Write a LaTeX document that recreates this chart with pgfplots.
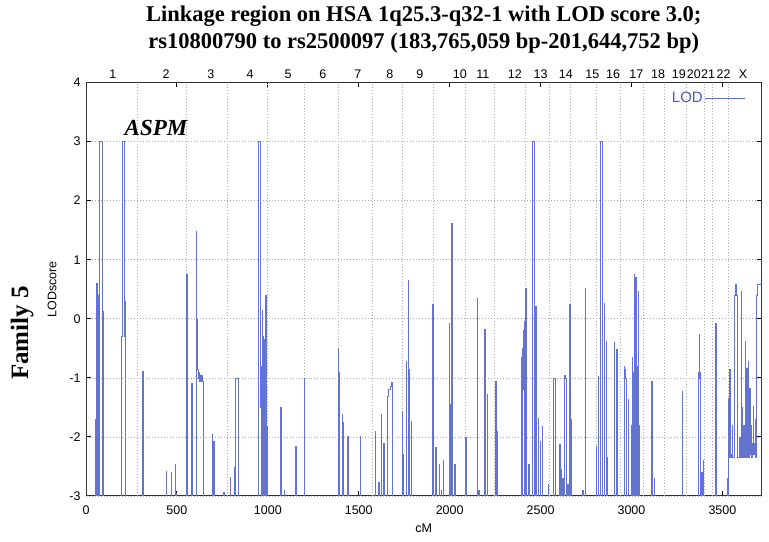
\documentclass[border=0pt]{standalone}
\usepackage{pgfplots}
\pgfplotsset{compat=1.18}
\usepackage{fontspec}
\setmainfont{Liberation Serif}
\setsansfont{Liberation Sans}
\definecolor{lodc}{RGB}{98,116,208}
\definecolor{lodtxt}{RGB}{70,90,185}
\definecolor{gridc}{RGB}{170,170,170}
\newcommand{\tfont}{\sffamily\fontsize{12.5}{14}\selectfont}

\begin{document}
\begin{tikzpicture}
\begin{axis}[
  name=main,
  scale only axis,
  width=675.5pt, height=413.5pt,
  xmin=0, xmax=3715, ymin=-3, ymax=4,
  clip mode=individual,
  xtick={0,500,...,3500},
  ytick={-3,-2,...,4},
  tick label style={font=\tfont},
  xticklabel style={yshift=-6pt},
  yticklabel style={xshift=-2pt},
  /pgf/number format/assume math mode=true,
  /pgf/number format/1000 sep={},
  xlabel={cM}, ylabel={LODscore},
  label style={font=\tfont},
  xlabel style={at={(axis description cs:0.5,-0.0774)}, anchor=center},
  ylabel style={at={(axis description cs:-0.0503,0.5)}, anchor=center},
  ymajorgrids,
  extra x ticks={284,551,777,995,1198,1387,1574,1741,1908,2087,2247,2417,2547,2662,2804,2937,3066,3183,3302,3403,3445,3531},
  extra x tick labels={},
  extra x tick style={grid=major, major tick length=0pt},
  grid style={gridc, line width=0.6pt, dash pattern=on 1pt off 2pt},
  axis line style={black!80, line width=1pt},
  major tick length=5pt,
  tick style={black, line width=1pt},
  legend plot pos=right,
  legend style={draw=none, fill=none, at={(axis description cs:0.9815,0.987)}, anchor=north east,
    font=\sffamily\fontsize{15}{17}\selectfont, text=lodtxt},
  legend image code/.code={\draw[lodc, line width=1pt] (12pt,0pt) -- (52pt,0pt);},
]
\addplot[lodc, line width=0.55pt, const plot] coordinates {
(0,-3.6)
(50,-3.6)(52,-1.7)(53,-3.6)(55,-1.5)(56,-3.6)(57,-0.8)(58,-3.6)(59,0.6)(60,0.0)(61,0.46)(62,-3.6)(63,0.3)(64,-0.5)(65,-3.6)(66,0.4)(67,-3.6)
(72,-3.6)(73,3)(90,-3.6)(94,-3.6)(95,0.13)(96,-3.6)
(194,-3.6)(196,-0.3)(197,3)(212,-0.3)(213,0.3)(215,-3.6)
(310,-3.6)(312,-0.89)(314,-3.6)
(438,-3.6)(440,-2.58)(442,-3.6)(465,-3.6)(467,-2.6)(469,-3.6)(487,-3.6)(489,-2.46)(491,-3.6)
(495,-3.6)(497,-2.95)(499,-3.6)
(552,-3.6)(554,0.75)(555,-0.3)(556,-0.89)(558,-3.6)
(579,-3.6)(581,-1.1)(583,-3.6)
(606,-3.6)(608,1.48)(609,0.0)(610,-0.5)(612,-0.85)(615,-1.0)(618,-0.9)(621,-1.05)(624,-0.95)(627,-1.05)(630,-1.0)(633,-1.05)(636,-0.95)(640,-1.05)(644,-1.05)(645,-3.6)
(691,-3.6)(693,-1.96)(695,-3.6)(700,-3.6)(702,-2.07)(704,-3.6)
(755,-3.6)(757,-2.94)(759,-3.6)
(789,-3.6)(791,-2.69)(793,-3.6)
(815,-3.6)(817,-2.52)(819,-3.6)
(821,-3.6)(823,-1.0)(836,-3.6)
(943,-3.6)(945,3)(960,-0.44)(961,-1.5)(962,-0.8)(963,-3.6)(966,-0.9)(968,0.15)(969,-1.2)(970,-3.6)(972,-0.8)(973,-0.3)(974,-3.6)(976,-1.2)(978,-0.7)(979,-3.6)(981,-1.0)(983,-0.35)(984,-3.6)(986,-0.8)(988,0.4)(989,-1.0)(990,-3.6)(992,-0.9)(993,-3.6)(995,-1.82)(997,-3.6)
(1068,-3.6)(1070,-1.5)(1072,-3.6)
(1086,-3.6)(1088,-2.9)(1090,-3.6)
(1150,-3.6)(1152,-2.15)(1154,-3.6)
(1196,-3.6)(1198,-1.0)(1200,-3.6)
(1384,-3.6)(1386,-0.52)(1387,-0.6)(1388,-1.0)(1389,-3.6)(1391,-0.9)(1392,-1.5)(1393,-3.6)
(1409,-3.6)(1411,-1.62)(1412,-1.76)(1413,-3.6)
(1437,-3.6)(1439,-1.99)(1441,-3.6)
(1504,-3.6)(1506,-1.99)(1507,-2.5)(1508,-3.6)
(1589,-3.6)(1591,-1.9)(1593,-3.6)
(1607,-3.6)(1609,-2.77)(1611,-3.6)
(1620,-3.6)(1622,-1.62)(1624,-3.6)
(1634,-3.6)(1636,-2.1)(1638,-3.6)
(1656,-3.6)(1658,-1.31)(1665,-1.2)(1671,-1.14)(1680,-1.08)(1682,-3.6)
(1739,-3.6)(1741,-1.56)(1742,-2.3)(1743,-3.6)
(1760,-3.6)(1762,-0.72)(1763,-1.2)(1764,-3.6)
(1772,-3.6)(1774,0.66)(1775,-0.86)(1776,-3.6)
(1785,-3.6)(1787,-1.73)(1789,-3.6)
(1905,-3.6)(1907,0.24)(1908,-0.83)(1909,-1.3)(1910,-3.6)
(1920,-3.6)(1922,-2.18)(1924,-3.6)
(1940,-3.6)(1942,-2.46)(1944,-3.6)
(1951,-3.6)(1953,-2.9)(1955,-3.6)
(1962,-3.6)(1964,-2.4)(1966,-3.6)
(1997,-3.6)(1999,-0.07)(2000,-1.45)(2001,-3.6)
(2008,-3.6)(2010,1.61)(2012,-3.6)
(2026,-3.6)(2028,-2.46)(2030,-3.6)
(2085,-3.6)(2087,-2.0)(2089,-3.6)
(2149,-3.6)(2151,0.35)(2152,-0.1)(2153,-3.6)
(2158,-3.6)(2160,-2.9)(2162,-3.6)
(2191,-3.6)(2193,-0.18)(2194,-1.23)(2195,-3.6)
(2204,-3.6)(2206,-1.28)(2208,-3.6)
(2250,-3.6)(2252,-1.06)(2254,-3.6)(2259,-3.6)(2261,-1.9)(2263,-3.6)
(2393,-3.6)(2395,-0.66)(2397,-3.6)
(2400,-3.6)(2402,-0.5)(2404,-1.2)(2406,-0.2)(2407,-1.0)(2408,-0.04)(2409,-1.3)(2410,-3.6)
(2415,-3.6)(2417,0.51)(2419,-3.6)
(2433,-3.6)(2435,-2.46)(2437,-3.6)
(2452,-3.6)(2454,3)(2467,-3.6)
(2470,-3.6)(2472,0.21)(2474,-3.6)
(2484,-3.6)(2486,-1.68)(2488,-3.6)
(2495,-3.6)(2497,-2.07)(2499,-3.6)
(2505,-3.6)(2507,-1.82)(2509,-3.6)
(2541,-3.6)(2543,-2.8)(2545,-3.6)
(2569,-3.6)(2571,-1.0)(2583,-3.6)
(2602,-3.6)(2604,-2.13)(2606,-3.6)
(2611,-3.6)(2613,-2.55)(2615,-3.6)
(2620,-3.6)(2622,-2.7)(2624,-3.6)
(2627,-3.6)(2629,-1.06)(2632,-0.95)(2635,-1.0)(2640,-1.06)(2642,-3.6)
(2647,-3.6)(2649,-2.8)(2651,-3.6)
(2658,-3.6)(2660,0.25)(2661,-1.0)(2662,-3.6)(2666,-3.6)(2668,-1.7)(2670,-3.6)
(2730,-3.6)(2732,-2.9)(2734,-3.6)
(2743,-3.6)(2745,0.52)(2747,-3.6)
(2803,-3.6)(2805,-2.15)(2807,-3.6)
(2816,-3.6)(2818,-0.97)(2820,-3.6)
(2826,-3.6)(2827,3)(2842,-3.6)
(2846,-3.6)(2848,-0.21)(2849,-0.8)(2850,-3.6)(2851,0.27)(2852,-3.6)
(2858,-3.6)(2860,-0.38)(2861,-1.5)(2862,-3.6)
(2865,-3.6)(2867,-2.35)(2869,-3.6)
(2904,-3.6)(2906,-0.4)(2907,-1.0)(2908,-3.6)(2917,-3.6)(2919,-0.52)(2920,-1.2)(2921,-3.6)
(2959,-3.6)(2961,-0.8)(2963,-0.95)(2965,-0.85)(2967,-1.0)(2970,-1.05)(2972,-3.6)
(2981,-3.6)(2983,-1.37)(2985,-3.6)
(2998,-3.6)(3000,-1.8)(3001,-3.6)(3003,-1.0)(3005,-0.66)(3006,-3.6)(3008,-1.2)(3010,-3.6)(3012,-0.9)(3014,0.76)(3015,-0.4)(3016,-3.6)(3018,-1.5)(3019,-3.6)(3021,-0.9)(3023,0.7)(3024,-3.6)(3026,-1.4)(3027,-0.44)(3028,-3.6)(3030,-1.6)(3031,-3.6)(3033,-0.8)(3038,0.46)(3039,-1.1)(3040,-3.6)(3042,-1.8)(3044,-3.6)
(3109,-3.6)(3111,-1.06)(3113,-1.1)(3115,-3.6)
(3121,-3.6)(3123,-2.7)(3125,-3.6)
(3276,-3.6)(3278,-1.23)(3279,-2.0)(3280,-3.6)
(3366,-3.6)(3368,-0.9)(3370,-0.27)(3371,-0.8)(3373,-1.0)(3374,-0.6)(3375,-0.9)(3376,-3.6)
(3383,-3.6)(3385,-2.6)(3387,-3.6)
(3391,-3.6)(3393,-2.4)(3395,-3.6)
(3460,-3.6)(3462,-0.07)(3464,-3.6)
(3524,-3.6)(3526,-2.7)(3528,-3.6)
(3529,-3.6)(3531,-1.34)(3533,-2.35)(3536,-2.35)(3540,-0.86)(3543,-2.35)(3548,-2.3)(3552,-1.8)(3555,-2.35)(3560,-2.35)(3564,-1.0)(3566,0.4)(3568,0.58)(3578,0.4)(3580,-1.0)(3582,-2.35)(3590,-2.35)(3594,-2.0)(3597,-2.35)(3601,-1.5)(3604,0.46)(3606,-1.5)(3609,-2.35)(3613,-2.2)(3617,-1.8)(3619,-2.35)(3623,-0.38)(3625,-2.0)(3628,-2.35)(3632,-0.83)(3634,-2.2)(3637,-2.35)(3641,-0.72)(3643,-2.2)(3646,-2.35)(3650,-1.17)(3652,-2.3)(3655,-2.0)(3657,-2.35)(3659,-1.8)(3661,-2.35)(3665,-2.1)(3669,-1.48)(3671,-2.3)(3674,-2.1)(3678,-1.7)(3680,-2.35)(3687,-1.0)(3688,0.4)(3690,0.58)(3715,0.58)
};
\addlegendentry{LOD}
\node[font=\bfseries\itshape\fontsize{23}{26}\selectfont, anchor=center] at (axis description cs:0.1036,0.890) {ASPM};
\node[font=\bfseries\fontsize{25}{28}\selectfont, rotate=90, anchor=center] at (axis description cs:-0.0947,0.394) {Family 5};
\node[font=\bfseries\fontsize{22.5}{26}\selectfont, anchor=base] at ([yshift=60.5pt]axis description cs:0.5,1) {Linkage region on HSA 1q25.3-q32-1 with LOD score 3.0;};
\node[font=\bfseries\fontsize{22.5}{26}\selectfont, anchor=base] at ([yshift=33.5pt]axis description cs:0.5,1) {rs10800790 to rs2500097 (183,765,059 bp-201,644,752 bp)};
\coordinate (bl) at (rel axis cs:0,0);
\coordinate (tr) at (rel axis cs:1,1);
\end{axis}
\begin{axis}[
  scale only axis,
  width=675.5pt, height=413.5pt,
  xmin=0, xmax=3715, ymin=-3, ymax=4,
  hide y axis,
  axis x line*=top,
  axis line style={draw=none},
  xtick={148,440,687,902,1111,1303,1495,1671,1836,2056,2183,2358,2500,2639,2785,2899,3027,3146,3260,3343,3421,3507,3613},
  xticklabels={1,2,3,4,5,6,7,8,9,10,11,12,13,14,15,16,17,18,19,20,21,22,X},
  major tick length=0pt,
  tick label style={font=\tfont},
]
\end{axis}
\pgfresetboundingbox
\path ([xshift=-86pt,yshift=-46pt]bl) rectangle ([xshift=7.5pt,yshift=82.5pt]tr);
\end{tikzpicture}
\end{document}
